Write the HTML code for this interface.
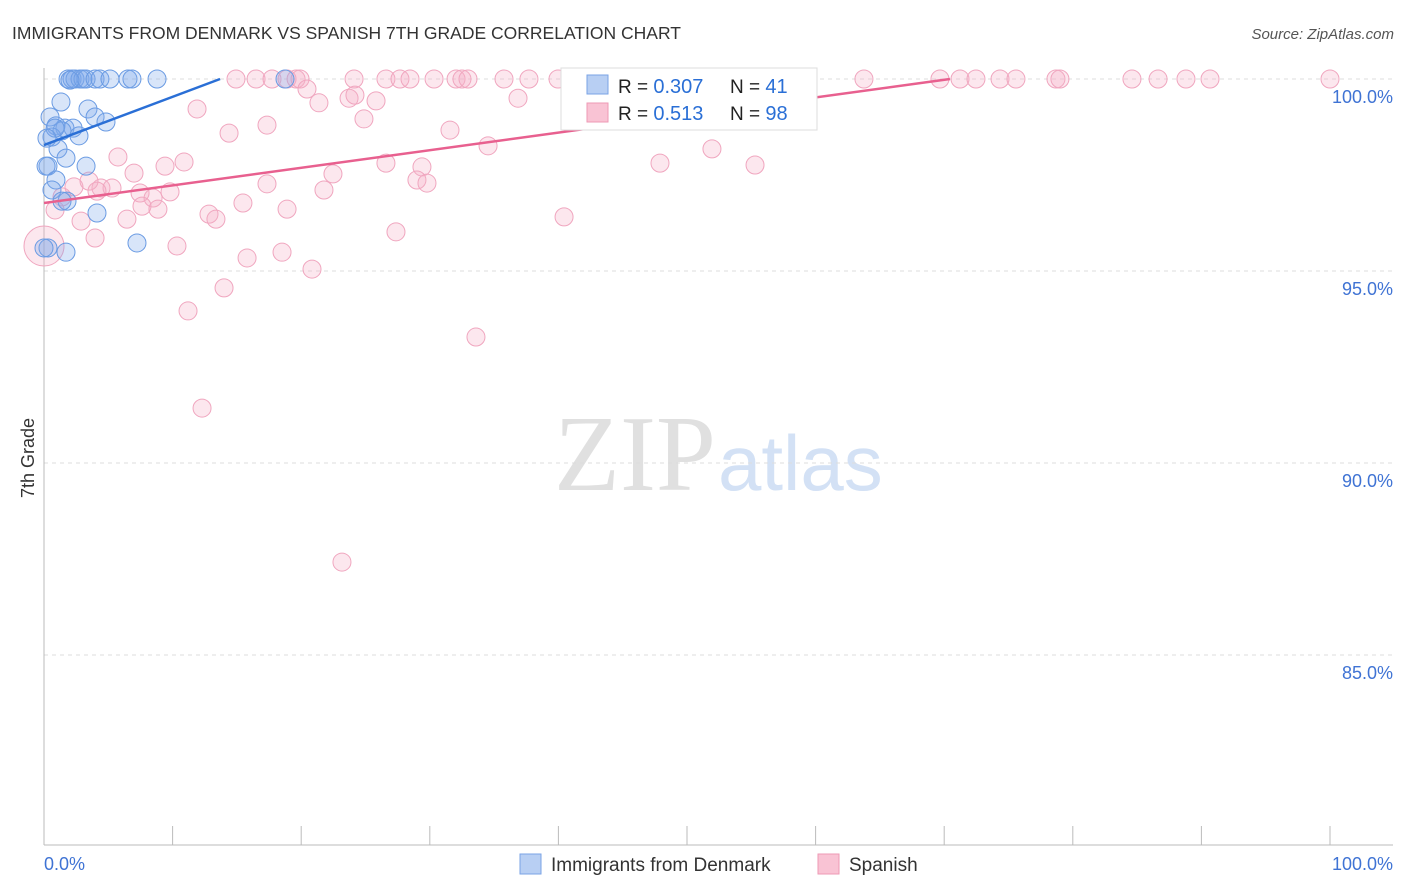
<!DOCTYPE html>
<html><head><meta charset="utf-8"><style>
body{margin:0;background:#fff;font-family:"Liberation Sans",sans-serif}
svg{display:block}
</style></head><body>
<svg id="c" width="1406" height="892" xmlns="http://www.w3.org/2000/svg">
<text x="12" y="39" font-size="17.5" fill="#333">IMMIGRANTS FROM DENMARK VS SPANISH 7TH GRADE CORRELATION CHART</text>
<text x="1394" y="39" font-size="15" fill="#555" font-style="italic" text-anchor="end">Source: ZipAtlas.com</text>
<text x="34" y="458" font-size="18" fill="#333" transform="rotate(-90 34 458)" text-anchor="middle">7th Grade</text>
<text x="716" y="490" font-size="108" fill="#e0e0e0" text-anchor="end" font-family="Liberation Serif,serif">ZIP</text>
<text x="718" y="490" font-size="78" fill="#d3e1f5">atlas</text>
<g id="grid"></g><g id="marks"></g>
<g>
<rect x="561" y="68" width="256" height="62" fill="#fff" stroke="#ddd"/>
<rect x="587" y="75" width="21" height="19" fill="#b8cff3" stroke="#7aa3e6"/>
<rect x="587" y="103" width="21" height="19" fill="#f9c3d4" stroke="#ee9ab5"/>
<text x="618" y="93" font-size="19" fill="#222">R = <tspan fill="#2a6fd6" font-size="20">0.307</tspan></text>
<text x="730" y="93" font-size="19" fill="#222">N =  <tspan fill="#2a6fd6" font-size="20">41</tspan></text>
<text x="618" y="120" font-size="19" fill="#222">R =  <tspan fill="#2a6fd6" font-size="20">0.513</tspan></text>
<text x="730" y="120" font-size="19" fill="#222">N = <tspan fill="#2a6fd6" font-size="20">98</tspan></text>
</g>
<g>
<rect x="520" y="854" width="21" height="20" fill="#b8cff3" stroke="#7aa3e6"/>
<text x="551" y="871" font-size="19" fill="#333">Immigrants from Denmark</text>
<rect x="818" y="854" width="21" height="20" fill="#f9c3d4" stroke="#ee9ab5"/>
<text x="849" y="871" font-size="19" fill="#333">Spanish</text>
</g>
</svg>
<script>
const yTicks=[100,95,90,85];
const yTickLabels=["100.0%","95.0%","90.0%","85.0%"];
const xTickVals=[0,10,20,30,40,50,60,70,80,90,100];
const xEndLabels=["0.0%","100.0%"];
const blueX=[1.87,2.18,2.41,2.8,3.03,3.27,3.97,4.35,5.13,6.53,6.84,8.79,18.74,1.32,3.42,0.47,3.97,4.82,0.93,1.63,2.26,1.4,2.72,0.62,1.09,1.71,0.31,3.27,0.93,0.62,1.79,1.4,4.12,7.23,1.71,0.31,2.02,0.86,0.23,0.16,0];
const blueY=[100,100,100,100,100,100,100,100,100,100,100,100,100,99.4,99.22,99.01,99.01,98.88,98.78,98.72,98.72,98.65,98.52,98.49,98.18,97.94,97.73,97.73,97.37,97.11,96.82,96.82,96.51,95.73,95.49,95.6,99.97,98.72,98.46,97.73,95.6];
const pinkX=[14.93,16.49,17.73,18.9,19.6,19.91,24.11,26.59,27.68,28.46,30.33,32.04,32.5,32.97,35.77,37.71,39.97,41.68,43.23,46.73,51.17,51.79,55.99,63.76,69.67,71.23,72.47,74.34,75.58,78.69,79,84.6,86.63,88.8,90.67,100,
20.45,21.38,23.72,11.9,24.18,25.82,36.86,17.34,14.39,24.88,31.57,34.53,5.75,10.89,9.41,26.59,29.39,47.9,51.94,55.29,7,22.47,29,29.78,17.34,2.33,4.43,5.29,3.5,4.12,7.47,9.8,21.77,8.48,1.4,7.62,8.86,15.47,18.9,12.83,13.37,6.45,2.88,0.86,40.44,27.37,3.97,10.34,18.51,15.79,20.84,14,11.2,33.59,12.29,23.17];
const pinkY=[100,100,100,100,100,100,100,100,100,100,100,100,100,100,100,100,100,100,100,100,100,100,100,100,100,100,100,100,100,100,100,100,100,100,100,100,
99.74,99.38,99.5,99.22,99.58,99.43,99.5,98.8,98.59,98.96,98.67,98.26,97.97,97.84,97.73,97.81,97.71,97.81,98.18,97.76,97.55,97.53,97.37,97.29,97.27,97.19,97.16,97.16,97.34,97.08,97.03,97.06,97.11,96.9,96.93,96.69,96.61,96.77,96.61,96.48,96.35,96.35,96.3,96.59,96.41,96.02,95.86,95.65,95.49,95.34,95.05,94.56,93.96,93.28,91.43,87.42];
const pinkBig=[0,95.65];
const blueTrend=[0,98.28,13.69,100];
const pinkTrend=[0,96.77,70.45,100];
const NS="http://www.w3.org/2000/svg";
const X=v=>44+v*12.86, Y=v=>79+(100-v)*38.4;
function mk(t,a,p){const e=document.createElementNS(NS,t);for(const k in a)e.setAttribute(k,a[k]);p.appendChild(e);return e;}
const g=document.getElementById('grid'), m=document.getElementById('marks');
yTicks.forEach((t,i)=>{
 const l=mk('line',{x1:44,x2:1393,y1:Y(t),y2:Y(t),stroke:'#ddd','stroke-dasharray':'4,4'},g);
 
 
 const tx=mk('text',{x:1393,y:Y(t)+24,'font-size':18,fill:'#3f73d4','text-anchor':'end'},g);
 tx.textContent=yTickLabels[i];
 
 
});
const ax=mk('line',{x1:44,x2:44,y1:68,y2:845,stroke:'#bbb'},g);


const bx=mk('line',{x1:44,x2:1393,y1:845,y2:845,stroke:'#bbb'},g);


xTickVals.forEach(v=>{
 const t=mk('line',{x1:X(v),x2:X(v),y1:826,y2:845,stroke:'#bbb'},g);
 
 
});
[[0,'start'],[100,'end']].forEach((p,i)=>{
 const t=mk('text',{x:i?1393:44,y:870,'font-size':18,fill:'#3f73d4','text-anchor':p[1]},g);
 t.textContent=xEndLabels[i];
 
 
});
pinkX.forEach((v,i)=>{
 const c=mk('circle',{cx:X(v),cy:Y(pinkY[i]),r:9,fill:'rgba(246,175,200,0.3)',stroke:'#f0a6bf','stroke-width':1},m);
 
 
});
const big=mk('circle',{cx:X(pinkBig[0]),cy:Y(pinkBig[1]),r:20,fill:'rgba(246,175,200,0.3)',stroke:'#f0a6bf'},m);


blueX.forEach((v,i)=>{
 const c=mk('circle',{cx:X(v),cy:Y(blueY[i]),r:9,fill:'rgba(125,170,235,0.3)',stroke:'#6a9be3','stroke-width':1},m);
 
 
});
const bl=mk('line',{x1:X(blueTrend[0]),y1:Y(blueTrend[1]),x2:X(blueTrend[2]),y2:Y(blueTrend[3]),stroke:'#2a6fd6','stroke-width':2.5},m);


const pl=mk('line',{x1:X(pinkTrend[0]),y1:Y(pinkTrend[1]),x2:X(pinkTrend[2]),y2:Y(pinkTrend[3]),stroke:'#e8608f','stroke-width':2.5},m);


</script>
</body></html>
